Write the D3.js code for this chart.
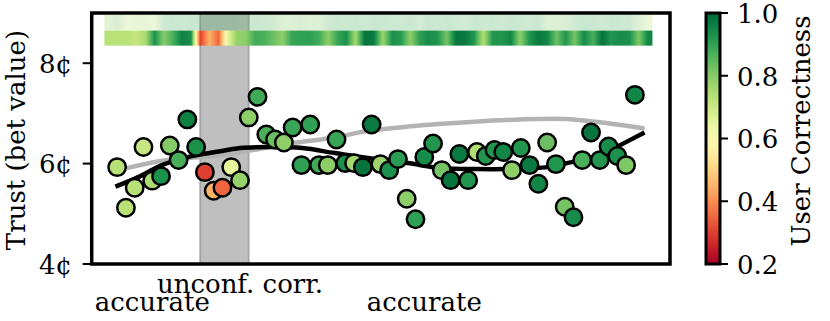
<!DOCTYPE html>
<html>
<head>
<meta charset="utf-8">
<script src="https://cdn.jsdelivr.net/npm/d3@7"></script>
<style>
  body { margin: 0; background: #fff; }
  svg { display: block; font-family: 'DejaVu Serif', serif; }
</style>
</head>
<body>
<div id="chart"></div>
<script>
// trust per trial (bet value, cents)
var trust = [5.93, 5.12, 5.52, 6.33, 5.66, 5.75, 6.36, 6.07, 6.88, 6.33,
  5.83, 5.46, 5.52, 5.93, 5.67, 6.92, 7.33, 6.58, 6.48, 6.42,
  6.72, 5.97, 6.78, 5.97, 5.97, 6.48, 6.01, 6.01, 5.93, 6.78,
  5.99, 5.87, 6.09, 5.30, 4.89, 6.13, 6.40, 5.87, 5.67, 6.19,
  5.67, 6.23, 6.15, 6.27, 6.23, 5.87, 6.31, 5.97, 5.60, 6.42,
  5.99, 5.14, 4.93, 6.07, 6.62, 6.07, 6.34, 6.15, 5.97, 7.37];
// user correctness per trial (point colour + bottom strip)
var userCorrectness = [0.73, 0.73, 0.73, 0.71, 0.75, 0.93, 0.80, 0.87, 0.96, 0.93,
  0.30, 0.45, 0.35, 0.65, 0.78, 0.79, 0.88, 0.87, 0.83, 0.79,
  0.89, 0.90, 0.90, 0.88, 0.79, 0.89, 0.93, 0.76, 0.98, 0.97,
  0.77, 0.93, 0.91, 0.79, 0.90, 0.94, 0.92, 0.82, 0.98, 0.97,
  0.92, 0.74, 0.92, 0.92, 0.95, 0.79, 0.92, 0.97, 0.95, 0.83,
  0.92, 0.82, 0.94, 0.87, 0.98, 0.92, 0.94, 0.93, 0.81, 0.95];
// faded top strip
var aiCorrectness = [0.78, 0.82, 0.72, 0.74, 0.75, 0.72, 0.86, 0.88, 0.87, 0.88,
  0.88, 0.88, 0.88, 0.88, 0.88, 0.86, 0.88, 0.87, 0.85, 0.80,
  0.80, 0.82, 0.80, 0.80, 0.86, 0.88, 0.87, 0.88, 0.86, 0.88,
  0.88, 0.87, 0.86, 0.88, 0.84, 0.88, 0.87, 0.88, 0.86, 0.84,
  0.88, 0.87, 0.88, 0.86, 0.88, 0.87, 0.86, 0.88, 0.80, 0.80,
  0.82, 0.86, 0.88, 0.88, 0.86, 0.88, 0.87, 0.86, 0.80, 0.72];

// fitted curves (trial index, trust)
var fitBlackX = [-0.2, 2.4, 5.1, 8.5, 11.2, 14, 17.2, 21.1, 24.8, 29.4, 33.1, 37, 40.8, 44.5, 49.1, 51.8, 54.8, 56.7, 60.1];
var fitBlackY = [5.54, 5.73, 5.97, 6.15, 6.23, 6.31, 6.33, 6.31, 6.21, 6.09, 6.01, 5.91, 5.89, 5.89, 5.93, 6.03, 6.13, 6.31, 6.62];
var fitGreyX = [1.1, 5.7, 12, 19.7, 24.8, 28.2, 34.5, 40.2, 45.9, 51, 54.8, 60.1];
var fitGreyY = [5.91, 6.07, 6.17, 6.40, 6.52, 6.64, 6.76, 6.83, 6.88, 6.89, 6.83, 6.70];

var phaseLabels = ['accurate', 'unconf. corr.', 'accurate'];
var phasePos = [4, 14, 35];
var phaseRow = [1, 0, 1];
var bandRange = [9.45, 15.0];
var yTicks = [4, 6, 8];
var cbTicks = [0.2, 0.4, 0.6, 0.8, 1.0];

var W = 830, H = 321;
var FS = 26;
var trials = d3.range(trust.length);

var x = d3.scaleLinear().domain([-2.9, 63]).range([91.7, 670]);
var y = d3.scaleLinear().domain([4, 9]).range([264, 13]);
var color = d3.scaleSequential(d3.interpolateRdYlGn).domain([0.2, 1.0]);

var svg = d3.select('#chart').append('svg')
  .attr('width', W)
  .attr('height', H);
var defs = svg.append('defs');

// 灰色区间
svg.append('rect')
  .attr('x', x(bandRange[0]))
  .attr('y', y(9))
  .attr('width', x(bandRange[1]) - x(bandRange[0]))
  .attr('height', y(4) - y(9))
  .attr('fill', 'gray')
  .attr('fill-opacity', 0.5)
  .attr('stroke', 'gray')
  .attr('stroke-opacity', 0.5)
  .attr('stroke-width', 2);

// strips: interpolate values between cells, then colormap
function stripGradient(id, values) {
  var n = values.length, steps = 480;
  var g = defs.append('linearGradient').attr('id', id)
    .attr('x1', '0%').attr('x2', '100%').attr('y1', '0%').attr('y2', '0%');
  for (var s = 0; s <= steps; s++) {
    var pos = s / steps * n - 0.5;
    var i0 = Math.max(0, Math.min(n - 1, Math.floor(pos)));
    var i1 = Math.max(0, Math.min(n - 1, Math.floor(pos) + 1));
    var f = Math.max(0, Math.min(1, pos - Math.floor(pos)));
    var v = values[i0] + (values[i1] - values[i0]) * f;
    g.append('stop').attr('offset', (s / steps * 100) + '%').attr('stop-color', color(v));
  }
}
stripGradient('topStrip', aiCorrectness);
stripGradient('bottomStrip', userCorrectness);

var stripExtent = [-1.46, 61];
svg.append('rect')
  .attr('x', x(stripExtent[0]))
  .attr('width', x(stripExtent[1]) - x(stripExtent[0]))
  .attr('y', y(8.96))
  .attr('height', y(8.65) - y(8.96))
  .attr('fill', 'url(#topStrip)')
  .attr('opacity', 0.28);
svg.append('rect')
  .attr('x', x(stripExtent[0]))
  .attr('width', x(stripExtent[1]) - x(stripExtent[0]))
  .attr('y', y(8.65))
  .attr('height', y(8.35) - y(8.65))
  .attr('fill', 'url(#bottomStrip)');

// 拟合曲线
var line = d3.line()
  .x(function(d) { return x(d[0]); })
  .y(function(d) { return y(d[1]); })
  .curve(d3.curveCatmullRom.alpha(0.5));

svg.append('path')
  .datum(d3.zip(fitGreyX, fitGreyY))
  .attr('d', line)
  .attr('fill', 'none')
  .attr('stroke', '#b3b3b3')
  .attr('stroke-width', 4.5);
svg.append('path')
  .datum(d3.zip(fitBlackX, fitBlackY))
  .attr('d', line)
  .attr('fill', 'none')
  .attr('stroke', '#000')
  .attr('stroke-width', 4.5);

// 散点
svg.selectAll('.pt')
  .data(trials)
  .enter()
  .append('circle')
  .attr('class', 'pt')
  .attr('cx', function(d) { return x(d); })
  .attr('cy', function(d) { return y(trust[d]); })
  .attr('r', 8.7)
  .attr('fill', function(d) { return color(userCorrectness[d]); })
  .attr('stroke', '#000')
  .attr('stroke-width', 2.5);

// frame
svg.append('rect')
  .attr('x', x.range()[0])
  .attr('y', y.range()[1])
  .attr('width', x.range()[1] - x.range()[0])
  .attr('height', y.range()[0] - y.range()[1])
  .attr('fill', 'none')
  .attr('stroke', '#000')
  .attr('stroke-width', 3.5);

// y ticks
var yAxis = svg.append('g');
yTicks.forEach(function(t) {
  yAxis.append('line')
    .attr('x1', x.range()[0] - 9).attr('x2', x.range()[0])
    .attr('y1', y(t)).attr('y2', y(t))
    .attr('stroke', '#000').attr('stroke-width', 2);
  yAxis.append('text')
    .attr('x', 72).attr('y', y(t)).attr('dy', '0.38em')
    .attr('text-anchor', 'end')
    .attr('font-size', FS)
    .text(t + '¢');
});

svg.append('text')
  .attr('transform', 'translate(25,140) rotate(-90)')
  .attr('text-anchor', 'middle')
  .attr('font-size', FS)
  .text('Trust (bet value)');

// phase labels
svg.selectAll('.phase')
  .data(phaseLabels)
  .enter()
  .append('text')
  .attr('class', 'phase')
  .attr('x', function(d, i) { return x(phasePos[i]); })
  .attr('y', function(d, i) { return phaseRow[i] ? 311 : 293; })
  .attr('text-anchor', 'middle')
  .attr('font-size', FS)
  .text(function(d) { return d; });

// colorbar
var cb = { x: 706, w: 14 };
var cbY = d3.scaleLinear().domain([0.2, 1.0]).range([264, 13]);
var cg = defs.append('linearGradient').attr('id', 'cbGrad')
  .attr('x1', '0%').attr('x2', '0%').attr('y1', '100%').attr('y2', '0%');
d3.range(0, 1.0001, 0.02).forEach(function(t) {
  cg.append('stop').attr('offset', (t * 100) + '%').attr('stop-color', d3.interpolateRdYlGn(t));
});
svg.append('rect')
  .attr('x', cb.x).attr('y', cbY(1.0))
  .attr('width', cb.w).attr('height', cbY(0.2) - cbY(1.0))
  .attr('fill', 'url(#cbGrad)')
  .attr('stroke', '#000')
  .attr('stroke-width', 3);
cbTicks.forEach(function(t) {
  svg.append('line')
    .attr('x1', cb.x + cb.w).attr('x2', cb.x + cb.w + 8)
    .attr('y1', cbY(t)).attr('y2', cbY(t))
    .attr('stroke', '#000').attr('stroke-width', 2);
  svg.append('text')
    .attr('x', 737).attr('y', cbY(t)).attr('dy', '0.38em')
    .attr('font-size', FS)
    .text(t.toFixed(1));
});
svg.append('text')
  .attr('transform', 'translate(810,131) rotate(-90)')
  .attr('text-anchor', 'middle')
  .attr('font-size', FS)
  .text('User Correctness');
</script>
</body>
</html>
